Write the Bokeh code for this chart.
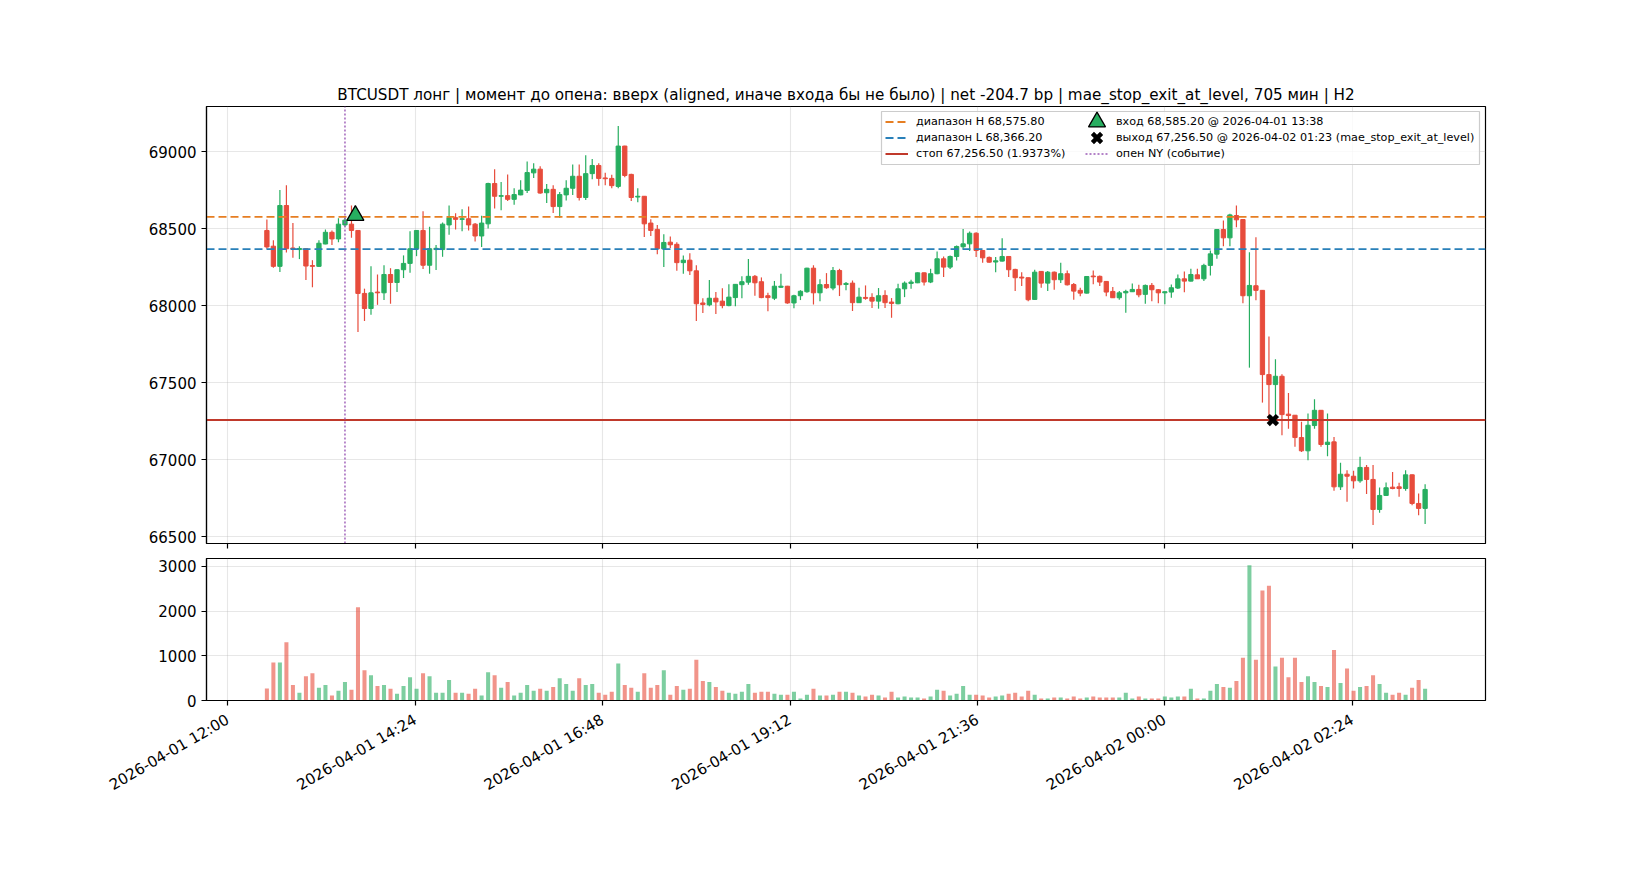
import math
import pandas as pd
from bokeh.plotting import figure
from bokeh.models import (ColumnDataSource, Range1d, FixedTicker, DatetimeTickFormatter,
                          Legend, LegendItem, CustomLabelingPolicy)
from bokeh.layouts import column
from bokeh.embed import file_html
from bokeh.resources import INLINE

TITLE = ("BTCUSDT лонг | момент до опена: вверх (aligned, иначе входа бы не было) | "
         "net -204.7 bp | mae_stop_exit_at_level, 705 мин | H2")
START = "2026-04-01 12:30"   # first 5-minute bar

OPEN = [68488, 68386, 68255, 68650, 68374, 68364, 68369, 68260, 68255, 68400,
        68476, 68433, 68524, 68529, 68488, 68079, 67981, 68088, 68083, 68202,
        68150, 68233, 68274, 68369, 68488, 68262, 68364, 68364, 68524, 68571,
        68560, 68564, 68529, 68452, 68531, 68793, 68710, 68714, 68690, 68719,
        68748, 68862, 68886, 68733, 68755, 68643, 68719, 68762, 68840, 68702,
        68857, 68910, 68829, 68826, 68774, 69036, 68852, 68705, 68710, 68536,
        68495, 68369, 68412, 68398, 68279, 68295, 68226, 68017, 68005, 68048,
        68029, 68000, 68052, 68136, 68152, 68190, 68155, 68064, 68048, 68119,
        68126, 68017, 68064, 68090, 68243, 68083, 68137, 68114, 68228, 68137,
        68146, 68019, 68053, 68053, 68029, 68066, 68023, 68012, 68109, 68144,
        68148, 68213, 68153, 68207, 68304, 68250, 68319, 68382, 68401, 68470,
        68358, 68313, 68283, 68289, 68319, 68235, 68185, 68181, 68040, 68222,
        68146, 68217, 68168, 68207, 68137, 68099, 68081, 68192, 68190, 68157,
        68092, 68051, 68083, 68090, 68105, 68073, 68131, 68103, 68083, 68088,
        68114, 68174, 68159, 68200, 68174, 68261, 68334, 68494, 68440, 68585,
        68559, 68064, 68129, 68099, 67552, 67487, 67541, 67295, 67288, 67143,
        67057, 67221, 67320, 67098, 67115, 66823, 66905, 66892, 66862, 66949,
        66871, 66676, 66767, 66821, 66823, 66812, 66901, 66715, 66683]
HIGH = [68559, 68424, 68750, 68781, 68536, 68386, 68372, 68295, 68424, 68495,
        68488, 68567, 68571, 68650, 68490, 68110, 68255, 68202, 68262, 68243,
        68235, 68326, 68483, 68490, 68612, 68512, 68393, 68540, 68650, 68600,
        68626, 68643, 68536, 68583, 68798, 68886, 68802, 68852, 68762, 68814,
        68936, 68924, 68905, 68790, 68781, 68738, 68814, 68917, 68917, 68976,
        68952, 68924, 68862, 68850, 69167, 69038, 68857, 68762, 68712, 68560,
        68524, 68464, 68448, 68412, 68326, 68340, 68262, 68048, 68167, 68088,
        68112, 68138, 68140, 68190, 68302, 68198, 68183, 68083, 68160, 68207,
        68128, 68071, 68100, 68245, 68262, 68171, 68211, 68250, 68239, 68153,
        68163, 68116, 68131, 68081, 68114, 68099, 68049, 68142, 68157, 68168,
        68215, 68215, 68239, 68351, 68319, 68326, 68390, 68498, 68481, 68477,
        68360, 68319, 68315, 68438, 68321, 68239, 68217, 68183, 68233, 68224,
        68224, 68222, 68278, 68228, 68146, 68116, 68191, 68228, 68196, 68159,
        68120, 68094, 68103, 68144, 68135, 68137, 68146, 68107, 68092, 68137,
        68202, 68222, 68239, 68239, 68272, 68358, 68496, 68553, 68596, 68650,
        68563, 68347, 68444, 68101, 67800, 67651, 67554, 67433, 67290, 67245,
        67299, 67392, 67322, 67299, 67147, 66979, 66931, 66927, 67018, 66964,
        66964, 66819, 66851, 66920, 66849, 66931, 66903, 66780, 66840]
LOW = [68369, 68245, 68219, 68345, 68310, 68302, 68167, 68119, 68250, 68398,
       68393, 68412, 68512, 68440, 67829, 67900, 67940, 68005, 68036, 68012,
       68088, 68179, 68214, 68321, 68238, 68207, 68231, 68317, 68460, 68495,
       68483, 68488, 68417, 68381, 68500, 68631, 68619, 68679, 68655, 68717,
       68731, 68829, 68726, 68667, 68602, 68571, 68683, 68719, 68683, 68686,
       68821, 68779, 68781, 68762, 68762, 68833, 68679, 68671, 68445, 68452,
       68333, 68250, 68374, 68226, 68207, 68198, 67900, 67952, 67995, 67945,
       67983, 67995, 67995, 68048, 68136, 68064, 68048, 67964, 68036, 68114,
       68012, 67983, 68036, 68083, 68007, 68029, 68109, 68099, 68062, 68099,
       67965, 68017, 68038, 67984, 67980, 67984, 67921, 68008, 68055, 68109,
       68146, 68131, 68146, 68203, 68185, 68237, 68293, 68369, 68354, 68315,
       68278, 68278, 68217, 68287, 68185, 68094, 68127, 68029, 68038, 68116,
       68094, 68103, 68146, 68131, 68038, 68060, 68079, 68138, 68127, 68060,
       68049, 68038, 67954, 68088, 68055, 68012, 68029, 68016, 68008, 68051,
       68107, 68086, 68157, 68172, 68159, 68196, 68304, 68386, 68386, 68509,
       68016, 67597, 68034, 67370, 67250, 67260, 67158, 67201, 67083, 67050,
       66996, 67201, 67083, 67022, 66797, 66802, 66726, 66812, 66849, 66776,
       66575, 66655, 66763, 66808, 66758, 66797, 66704, 66639, 66581]
CLOSE = [68381, 68255, 68650, 68369, 68369, 68371, 68257, 68255, 68405, 68476,
         68433, 68529, 68555, 68488, 68079, 67981, 68083, 68083, 68202, 68150,
         68233, 68274, 68369, 68488, 68262, 68369, 68372, 68529, 68571, 68560,
         68564, 68524, 68452, 68536, 68793, 68710, 68714, 68690, 68721, 68750,
         68864, 68886, 68731, 68755, 68643, 68721, 68762, 68840, 68702, 68857,
         68910, 68826, 68824, 68779, 69036, 68845, 68702, 68710, 68531, 68488,
         68369, 68410, 68395, 68279, 68295, 68226, 68012, 68007, 68048, 68024,
         68000, 68055, 68138, 68155, 68190, 68148, 68052, 68052, 68126, 68126,
         68017, 68064, 68093, 68243, 68083, 68136, 68116, 68228, 68135, 68144,
         68019, 68055, 68047, 68029, 68064, 68019, 68014, 68109, 68146, 68153,
         68213, 68153, 68207, 68304, 68250, 68319, 68384, 68401, 68470, 68358,
         68310, 68282, 68291, 68319, 68233, 68181, 68179, 68038, 68217, 68146,
         68217, 68168, 68207, 68135, 68094, 68081, 68189, 68187, 68153, 68088,
         68051, 68083, 68092, 68105, 68070, 68131, 68103, 68083, 68090, 68116,
         68174, 68159, 68202, 68174, 68261, 68336, 68494, 68440, 68589, 68557,
         68064, 68131, 68099, 67552, 67487, 67541, 67292, 67286, 67143, 67057,
         67223, 67320, 67098, 67113, 66823, 66905, 66892, 66862, 66949, 66871,
         66676, 66767, 66817, 66812, 66812, 66901, 66715, 66683, 66806]
VOLUME = [268, 848, 848, 1304, 348, 174, 543, 609, 283, 348,
          109, 217, 413, 239, 2087, 674, 565, 326, 348, 261,
          152, 326, 522, 261, 609, 543, 174, 174, 457, 174,
          174, 152, 261, 109, 630, 565, 283, 413, 109, 174,
          348, 217, 261, 217, 304, 500, 370, 217, 500, 348,
          370, 174, 130, 196, 826, 348, 283, 196, 609, 283,
          348, 674, 130, 326, 239, 261, 913, 435, 413, 304,
          217, 174, 152, 196, 370, 174, 196, 196, 152, 130,
          130, 196, 43, 130, 261, 109, 109, 130, 196, 196,
          174, 109, 87, 130, 109, 65, 196, 65, 87, 65,
          65, 43, 87, 239, 217, 109, 152, 326, 130, 130,
          109, 65, 87, 109, 152, 174, 87, 217, 130, 43,
          43, 65, 65, 43, 87, 43, 65, 87, 65, 65,
          65, 65, 174, 43, 87, 43, 43, 43, 87, 65,
          87, 87, 261, 43, 43, 217, 370, 304, 283, 435,
          957, 3022, 913, 2457, 2565, 761, 957, 522, 957, 413,
          543, 413, 326, 304, 1130, 391, 717, 217, 304, 326,
          565, 370, 174, 130, 174, 130, 283, 457, 261]

RANGE_H = 68575.80
RANGE_L = 68366.20
STOP = 67256.50
STOP_PCT = 1.9373
ENTRY_PRICE = 68585.20
ENTRY_TIME = "2026-04-01 13:38"
EXIT_PRICE = 67256.50
EXIT_TIME = "2026-04-02 01:23"
EXIT_REASON = "mae_stop_exit_at_level"
NY_OPEN = "2026-04-01 13:30"
X_TICKS = ["2026-04-01 12:00", "2026-04-01 14:24", "2026-04-01 16:48",
           "2026-04-01 19:12", "2026-04-01 21:36", "2026-04-02 00:00",
           "2026-04-02 02:24"]
PRICE_TICKS = [66500, 67000, 67500, 68000, 68500, 69000]
VOL_TICKS = [0, 1000, 2000, 3000]

GREEN = "#27ae60"
RED = "#e74c3c"
FONT = "DejaVu Sans"
MIN = 60000.0


def ms(s):
    return pd.Timestamp(s).value / 1e6


times = pd.date_range(START, periods=len(OPEN), freq="5min")
colors = [GREEN if c >= o else RED for o, c in zip(OPEN, CLOSE)]
src = ColumnDataSource(dict(
    t=times, o=OPEN, h=HIGH, l=LOW, c=CLOSE, v=VOLUME, color=colors,
    top=[max(o, c) for o, c in zip(OPEN, CLOSE)],
    bot=[min(o, c) for o, c in zip(OPEN, CLOSE)],
))

t_first = ms(X_TICKS[0])
x_range = Range1d(t_first - 16.4 * MIN, t_first + 966.4 * MIN)
y_range = Range1d(66455, 69293)
v_range = Range1d(0, 3174)

# layout (pixels)
W = 1640
ML = 206          # frame left
FW = 1279         # frame width
MR = W - ML - FW
PT = 106          # price frame top
PH = 437          # price frame height
PB = 15
VH = 146          # volume frame height
VB = 100


def style(p, yticks):
    p.outline_line_color = "black"
    p.outline_line_width = 1.2
    p.outline_line_alpha = 1.0
    p.background_fill_color = "white"
    p.border_fill_color = "white"
    for g in (p.xgrid, p.ygrid):
        g.grid_line_color = "#b0b0b0"
        g.grid_line_alpha = 0.3
        g.grid_line_width = 1.1
    p.xaxis.ticker = FixedTicker(ticks=[ms(s) for s in X_TICKS])
    p.yaxis.ticker = FixedTicker(ticks=yticks)
    for ax in (p.xaxis, p.yaxis):
        ax.axis_line_color = "black"
        ax.axis_line_width = 1.2
        ax.major_tick_line_color = "black"
        ax.major_tick_line_width = 1.2
        ax.major_tick_out = 5
        ax.major_tick_in = 0
        ax.minor_tick_line_color = None
        ax.major_label_text_font = FONT
        ax.major_label_text_font_size = "15px"
        ax.major_label_text_color = "black"
        ax.major_label_standoff = 5


# ---------------- price panel ----------------
p = figure(width=W, height=PT + PH + PB, x_axis_type="datetime", x_range=x_range,
           y_range=y_range, output_backend="svg", toolbar_location=None,
           min_border_left=ML, min_border_right=MR, min_border_top=PT,
           min_border_bottom=PB)
style(p, PRICE_TICKS)
p.xaxis.major_label_text_font_size = "1px"
p.xaxis.major_label_standoff = 0
p.xaxis.major_label_policy = CustomLabelingPolicy(
    code="for (const i of Array.from(indices)) { indices.unset(i) }")
p.title.text = TITLE
p.title.align = "center"
p.title.text_font = FONT
p.title.text_font_size = "15.2px"
p.title.text_font_style = "normal"
p.title.text_color = "black"
p.title.standoff = 6

p.segment(x0="t", y0="l", x1="t", y1="h", source=src, line_color="color", line_width=1.2)
p.vbar(x="t", width=3.3 * MIN, top="top", bottom="bot", source=src,
       fill_color="color", line_color="color", line_width=1)

xs_full = [x_range.start, x_range.end]
r_h = p.line(xs_full, [RANGE_H, RANGE_H], line_color="#e67e22", line_width=1.8, line_dash="8 4")
r_l = p.line(xs_full, [RANGE_L, RANGE_L], line_color="#2980b9", line_width=1.8, line_dash="8 4")
r_s = p.line(xs_full, [STOP, STOP], line_color="#c0392b", line_width=2)
ny = ms(NY_OPEN)
r_ny = p.line([ny, ny], [y_range.start, y_range.end], line_color="#9b59b6",
              line_width=1.4, line_dash="2 2")

TRI = dict(marker="triangle", size=17, fill_color=GREEN, line_color="black", line_width=1.3)
XM = dict(marker="x", size=13, line_color="black", line_width=4.5)
p.scatter([ms(ENTRY_TIME)], [ENTRY_PRICE], **TRI)
p.scatter([ms(EXIT_TIME)], [EXIT_PRICE], **XM)
# invisible stand-ins: the legend reserves their slots, full-size handles are drawn separately
r_en = p.scatter([ms(ENTRY_TIME)], [ENTRY_PRICE], marker="triangle", size=1,
                 fill_alpha=0, line_alpha=0)
r_ex = p.scatter([ms(EXIT_TIME)], [EXIT_PRICE], marker="x", size=1, line_alpha=0)

# legend geometry (screen px, relative to the price frame)
LG_LEFT, LG_TOP, LG_RIGHT = 675, 5, 1273
LG_PAD, LG_ROW, LG_SP = 4, 13, 3
LG_GW, LG_STAND, LG_LW = 23, 8, 166
LG_H = 2 * LG_PAD + 3 * LG_ROW + 2 * LG_SP


def sx_to_data(px):
    return x_range.start + px / FW * (x_range.end - x_range.start)


def sy_to_data(py):
    return y_range.end - py / PH * (y_range.end - y_range.start)


# legend box (drawn beneath the full-size handles)
p.quad(left=[sx_to_data(LG_LEFT)], right=[sx_to_data(LG_RIGHT)],
       top=[sy_to_data(LG_TOP)], bottom=[sy_to_data(LG_TOP + LG_H)],
       fill_color="white", fill_alpha=0.8, line_color="#cccccc", line_width=1.2)

hx = LG_LEFT + LG_PAD + LG_GW + LG_STAND + LG_LW + LG_SP + LG_GW / 2
hy1 = LG_TOP + LG_PAD + LG_ROW / 2
hy2 = hy1 + LG_ROW + LG_SP
p.scatter([sx_to_data(hx)], [sy_to_data(hy1)], **TRI)
p.scatter([sx_to_data(hx)], [sy_to_data(hy2)], **XM)

legend = Legend(items=[
    LegendItem(label=f"диапазон H {RANGE_H:,.2f}", renderers=[r_h]),
    LegendItem(label=f"диапазон L {RANGE_L:,.2f}", renderers=[r_l]),
    LegendItem(label=f"стоп {STOP:,.2f} ({STOP_PCT:.4f}%)", renderers=[r_s]),
    LegendItem(label=f"вход {ENTRY_PRICE:,.2f} @ {ENTRY_TIME}", renderers=[r_en]),
    LegendItem(label=f"выход {EXIT_PRICE:,.2f} @ {EXIT_TIME} ({EXIT_REASON})", renderers=[r_ex]),
    LegendItem(label="опен NY (событие)", renderers=[r_ny]),
], location=(LG_LEFT, PH - LG_TOP - LG_H), ncols=2)
legend.label_text_font = FONT
legend.label_text_font_size = "11.2px"
legend.label_text_color = "black"
legend.label_height = LG_ROW
legend.glyph_height = LG_ROW
legend.glyph_width = LG_GW
legend.label_standoff = LG_STAND
legend.label_width = LG_LW
legend.spacing = LG_SP
legend.padding = LG_PAD
legend.margin = 0
legend.border_line_color = "#cccccc"
legend.border_line_alpha = 0
legend.background_fill_alpha = 0
p.add_layout(legend)

# ---------------- volume panel ----------------
pv = figure(width=W, height=VH + VB, x_axis_type="datetime", x_range=x_range,
            y_range=v_range, output_backend="svg", toolbar_location=None,
            min_border_left=ML, min_border_right=MR, min_border_top=0,
            min_border_bottom=VB)
style(pv, VOL_TICKS)
fmt = "%Y-%m-%d %H:%M"
pv.xaxis.formatter = DatetimeTickFormatter(
    milliseconds=fmt, seconds=fmt, minsec=fmt, minutes=fmt, hourmin=fmt,
    hours=fmt, days=fmt, months=fmt, years=fmt)
pv.xaxis.major_label_orientation = math.pi / 6
pv.xaxis.major_label_standoff = 13
pv.vbar(x="t", width=3.1 * MIN, top="v", bottom=0, source=src,
        fill_color="color", fill_alpha=0.6, line_color=None)

layout = column(p, pv, spacing=0)
open("out.html", "w").write(file_html(layout, INLINE))
